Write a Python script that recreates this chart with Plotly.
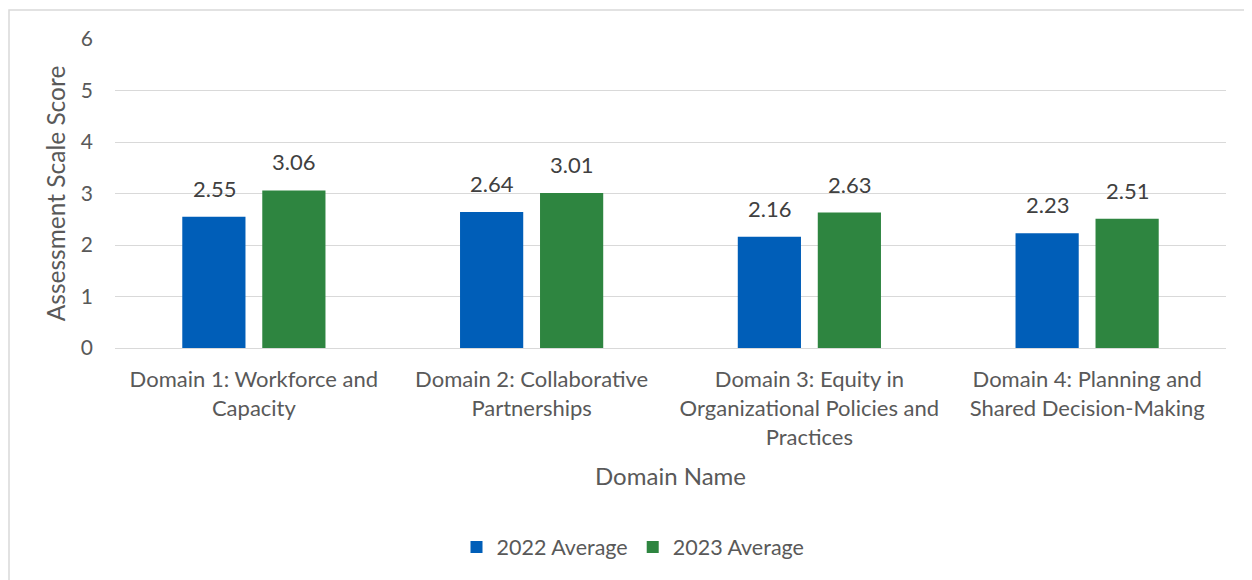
import plotly.graph_objects as go

categories = [
    "Domain 1: Workforce and<br>Capacity",
    "Domain 2: Collaborative<br>Partnerships",
    "Domain 3: Equity in<br>Organizational Policies and<br>Practices",
    "Domain 4: Planning and<br>Shared Decision-Making",
]
avg_2022 = [2.55, 2.64, 2.16, 2.23]
avg_2023 = [3.06, 3.01, 2.63, 2.51]
series_names = ["2022 Average", "2023 Average"]
colors = ["#005EB8", "#2E8540"]

FONT = "Lato, Open Sans, sans-serif"
TXT = "#595959"

fig = go.Figure()
for name, vals, col in zip(series_names, [avg_2022, avg_2023], colors):
    fig.add_trace(go.Bar(
        x=categories, y=vals, name=name,
        marker=dict(color=col, line=dict(width=0)),
    ))

# data labels
annotations = []
for offset, vals in zip([-0.142, 0.144], [avg_2022, avg_2023]):
    for i, v in enumerate(vals):
        annotations.append(dict(
            x=i + offset, y=v, xref="x", yref="y", text=f"{v:.2f}",
            showarrow=False, yanchor="bottom", yshift=13,
            font=dict(size=22, color="#404040", family=FONT),
        ))

OFF = 8  # page body margin
W, H = 1252, 580
L, R, T, B = 115 - OFF, 26 + OFF, 39 - OFF, (H + OFF) - 348
pw, ph = W - L - R, H - T - B
px0, py0 = 115, 348  # plot origin on the screenshot

fig.update_layout(
    width=W, height=H,
    margin=dict(l=L, r=R, t=T, b=B),
    paper_bgcolor="white", plot_bgcolor="white",
    barmode="group", bargap=0.424, bargroupgap=0.21,
    font=dict(family=FONT, color=TXT, size=18),
    showlegend=True,
    legend=dict(orientation="h", x=(633 - px0) / pw, xanchor="center", y=-(547 - py0) / ph, yanchor="middle",
                font=dict(size=21.5, color=TXT), traceorder="normal"),
    xaxis=dict(
        showgrid=False, showline=True, linecolor="#d9d9d9", linewidth=1,
        ticks="", tickfont=dict(size=22, color=TXT), ticklabelstandoff=12,
        title=dict(text="Domain Name", font=dict(size=24, color=TXT), standoff=19),
    ),
    yaxis=dict(
        range=[0, 6], dtick=1, showgrid=True, gridcolor="#d9d9d9", gridwidth=1,
        zeroline=False, ticks="", tickfont=dict(size=21, color=TXT),
        ticklabelstandoff=21,
        title=dict(text="Assessment Scale Score", font=dict(size=24.5, color=TXT), standoff=8),
    ),
    annotations=annotations,
    shapes=[dict(
        type="rect", xref="paper", yref="paper",
        x0=(9 - px0) / pw, x1=(1270 - px0) / pw,
        y0=-(600 - py0) / ph, y1=(py0 - 10) / ph,
        line=dict(color="#d9d9d9", width=1.5), fillcolor="rgba(0,0,0,0)", layer="below",
    )],
)

fig.write_html("out.html")
